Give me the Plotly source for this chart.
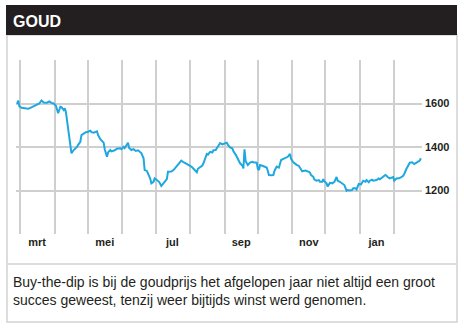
import plotly.graph_objects as go

dates = [
    "2013-02-26", "2013-02-27", "2013-02-28", "2013-03-02", "2013-03-05", "2013-03-08", "2013-03-10",
    "2013-03-12", "2013-03-16", "2013-03-18", "2013-03-20", "2013-03-22", "2013-03-25", "2013-03-27",
    "2013-03-29", "2013-03-31", "2013-04-02", "2013-04-04", "2013-04-06", "2013-04-07", "2013-04-09",
    "2013-04-10", "2013-04-11", "2013-04-13", "2013-04-15", "2013-04-16", "2013-04-18", "2013-04-21",
    "2013-04-22", "2013-04-24", "2013-04-25", "2013-04-27", "2013-04-29", "2013-05-01", "2013-05-03",
    "2013-05-04", "2013-05-06", "2013-05-09", "2013-05-10", "2013-05-12", "2013-05-13", "2013-05-15",
    "2013-05-16", "2013-05-18", "2013-05-19", "2013-05-21", "2013-05-22", "2013-05-25", "2013-05-27",
    "2013-05-30", "2013-05-31", "2013-06-02", "2013-06-03", "2013-06-05", "2013-06-06", "2013-06-07",
    "2013-06-09", "2013-06-11", "2013-06-13", "2013-06-15", "2013-06-17", "2013-06-18", "2013-06-20",
    "2013-06-21", "2013-06-23", "2013-06-24", "2013-06-26", "2013-06-27", "2013-06-29", "2013-06-30",
    "2013-07-02", "2013-07-04", "2013-07-06", "2013-07-08", "2013-07-09", "2013-07-11", "2013-07-12",
    "2013-07-14", "2013-07-15", "2013-07-17", "2013-07-18", "2013-07-20", "2013-07-22", "2013-07-24",
    "2013-07-26", "2013-07-28", "2013-07-30", "2013-08-01", "2013-08-03", "2013-08-04", "2013-08-07",
    "2013-08-08", "2013-08-10", "2013-08-12", "2013-08-13", "2013-08-16", "2013-08-17", "2013-08-19",
    "2013-08-21", "2013-08-22", "2013-08-24", "2013-08-26", "2013-08-28", "2013-08-30", "2013-08-31",
    "2013-09-03", "2013-09-04", "2013-09-06", "2013-09-08", "2013-09-09", "2013-09-11", "2013-09-13",
    "2013-09-15", "2013-09-17", "2013-09-18", "2013-09-19", "2013-09-20", "2013-09-22", "2013-09-24",
    "2013-09-26", "2013-09-27", "2013-09-30", "2013-10-01", "2013-10-02", "2013-10-03", "2013-10-05",
    "2013-10-06", "2013-10-09", "2013-10-10", "2013-10-11", "2013-10-13", "2013-10-15", "2013-10-16",
    "2013-10-18", "2013-10-20", "2013-10-22", "2013-10-24", "2013-10-26", "2013-10-28", "2013-10-30",
    "2013-10-31", "2013-11-02", "2013-11-03", "2013-11-05", "2013-11-07", "2013-11-08", "2013-11-10",
    "2013-11-11", "2013-11-13", "2013-11-16", "2013-11-17", "2013-11-18", "2013-11-20", "2013-11-21",
    "2013-11-23", "2013-11-25", "2013-11-26", "2013-11-28", "2013-11-29", "2013-11-30", "2013-12-02",
    "2013-12-03", "2013-12-05", "2013-12-07", "2013-12-09", "2013-12-11", "2013-12-12", "2013-12-14",
    "2013-12-16", "2013-12-17", "2013-12-18", "2013-12-20", "2013-12-21", "2013-12-23", "2013-12-25",
    "2013-12-26", "2013-12-28", "2013-12-29", "2013-12-31", "2014-01-02", "2014-01-03", "2014-01-04",
    "2014-01-06", "2014-01-07", "2014-01-09", "2014-01-10", "2014-01-12", "2014-01-13", "2014-01-16",
    "2014-01-18", "2014-01-19", "2014-01-22", "2014-01-24", "2014-01-25", "2014-01-26", "2014-01-28",
    "2014-01-30", "2014-01-31", "2014-02-01", "2014-02-03", "2014-02-05", "2014-02-06", "2014-02-07",
    "2014-02-09", "2014-02-10", "2014-02-12", "2014-02-13", "2014-02-15", "2014-02-17", "2014-02-19",
    "2014-02-20", "2014-02-22", "2014-02-24", "2014-02-25",
]

prices = [
    1598, 1613, 1588, 1580, 1578, 1576, 1580,
    1586, 1596, 1600, 1614, 1605, 1604, 1610,
    1603, 1600, 1590, 1555, 1585, 1583, 1570,
    1578, 1560, 1478, 1420, 1371, 1386, 1400,
    1410, 1424, 1455, 1462, 1468, 1470, 1475,
    1468, 1466, 1472, 1455, 1436, 1430, 1420,
    1390, 1355, 1375, 1386, 1380, 1385, 1392,
    1394, 1390, 1401, 1395, 1417, 1420, 1395,
    1386, 1390, 1382, 1385, 1378, 1372, 1348,
    1294, 1290, 1279, 1255, 1233, 1240, 1256,
    1250, 1240, 1221, 1232, 1240, 1252, 1286,
    1288, 1287, 1294, 1300, 1309, 1325, 1337,
    1330, 1325, 1318, 1313, 1306, 1300, 1284,
    1300, 1309, 1315, 1325, 1368, 1365, 1378,
    1375, 1385, 1386, 1400, 1418, 1412, 1415,
    1420, 1410, 1398, 1394, 1380, 1365, 1348,
    1325, 1315, 1302, 1389, 1335, 1317, 1328,
    1332, 1330, 1328, 1300, 1294, 1317, 1314,
    1312, 1306, 1290, 1271, 1270, 1271, 1290,
    1310, 1305, 1340, 1345, 1350, 1355, 1368,
    1345, 1330, 1325, 1318, 1313, 1305, 1288,
    1290, 1292, 1286, 1282, 1271, 1263, 1250,
    1245, 1248, 1240, 1240, 1252, 1242, 1233,
    1218, 1235, 1233, 1240, 1262, 1245, 1240,
    1233, 1230, 1225, 1199, 1202, 1200, 1203,
    1210, 1210, 1205, 1230, 1228, 1235, 1245,
    1240, 1248, 1238, 1245, 1250, 1245, 1248,
    1255, 1252, 1263, 1271, 1268, 1262, 1256,
    1258, 1262, 1245, 1255, 1256, 1258, 1260,
    1268, 1276, 1300, 1309, 1328, 1330, 1322,
    1325, 1332, 1338, 1348,
]

month_gridlines = ["2013-03-01", "2013-04-01", "2013-05-01", "2013-06-01", "2013-07-01", "2013-08-01",
                   "2013-09-01", "2013-10-01", "2013-11-01", "2013-12-01", "2014-01-01", "2014-02-01"]
month_label_pos = ["2013-03-16", "2013-05-16", "2013-07-16", "2013-09-16", "2013-11-16", "2014-01-16"]
month_labels = ["mrt", "mei", "jul", "sep", "nov", "jan"]
y_ticks = [1200, 1400, 1600]

title = "GOUD"
caption = ("Buy-the-dip is bij de goudprijs het afgelopen jaar niet altijd een groot<br>"
           "succes geweest, tenzij weer bijtijds winst werd genomen.")

W, H = 464, 328
L, R, T, B = 16, 42, 60, 94
pw, ph = W - L - R, H - T - B


def px(x):
    return (x - L) / pw


def py(y):
    return (H - B - y) / ph


NARROW = "Liberation Sans Narrow, Arial Narrow, sans-serif"
GRID = "#cfcfcf"
TXT = "#231f20"

fig = go.Figure()
fig.add_trace(go.Scatter(x=dates, y=prices, mode="lines",
                         line=dict(color="#1ea8df", width=2), hoverinfo="skip"))

fig.update_layout(
    width=W, height=H, autosize=False,
    margin=dict(l=L, r=R, t=T, b=B),
    paper_bgcolor="white", plot_bgcolor="white",
    showlegend=False,
    xaxis=dict(
        type="date", range=["2013-02-25", "2014-02-26"],
        tickmode="array", tickvals=month_label_pos, ticktext=month_labels,
        showgrid=False, zeroline=False, showline=False, ticks="",
        tickfont=dict(family=NARROW, size=11, color=TXT, weight="bold"),
        minor=dict(tickmode="array", tickvals=month_gridlines, showgrid=True,
                   gridcolor=GRID, gridwidth=1.5, ticks=""),
        fixedrange=True,
    ),
    yaxis=dict(
        range=[1000, 1800], side="right",
        tickmode="array", tickvals=y_ticks,
        showgrid=True, gridcolor=GRID, gridwidth=1.5,
        zeroline=False, showline=False, ticks="",
        ticklabelstandoff=2,
        tickfont=dict(family=NARROW, size=11, color=TXT, weight="bold"),
        fixedrange=True,
    ),
    shapes=[
        dict(type="rect", xref="paper", yref="paper",
             x0=px(7), x1=px(457), y0=py(322), y1=py(35),
             line=dict(color="#d2d2d2", width=1.5), fillcolor="rgba(0,0,0,0)", layer="below"),
        dict(type="line", xref="paper", yref="paper",
             x0=px(7), x1=px(457), y0=py(264), y1=py(264),
             line=dict(color="#d2d2d2", width=1.5)),
        dict(type="rect", xref="paper", yref="paper",
             x0=px(6), x1=px(457), y0=py(35), y1=py(5),
             line=dict(width=0), fillcolor="#231f20"),
    ],
    annotations=[
        dict(text=title, xref="paper", yref="paper", x=px(11), y=py(21),
             xanchor="left", yanchor="middle", showarrow=False,
             font=dict(family=NARROW, size=16, color="white", weight="bold")),
        dict(text=caption, xref="paper", yref="paper", x=px(11), y=py(272),
             xanchor="left", yanchor="top", align="left", showarrow=False,
             font=dict(family=NARROW, size=14, color=TXT)),
    ],
)

fig.write_html("out.html", config={"displayModeBar": False})
